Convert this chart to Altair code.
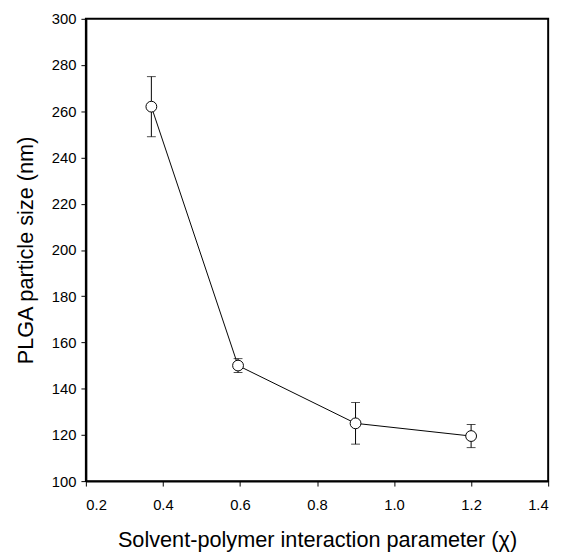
import altair as alt
import pandas as pd

chi = [0.37, 0.595, 0.9, 1.2]
size_nm = [262, 150, 125, 119.5]
err = [13, 3, 9, 5]

df = pd.DataFrame({"chi": chi, "size": size_nm, "err": err})
df["lo"] = df["size"] - df["err"]
df["hi"] = df["size"] + df["err"]

FONT = "Liberation Sans"

x = alt.X("chi:Q", scale=alt.Scale(domain=[0.2, 1.4], nice=False),
          axis=alt.Axis(title="Solvent-polymer interaction parameter (χ)",
                        values=[0.2, 0.4, 0.6, 0.8, 1.0, 1.2, 1.4], format=".1f",
                        grid=False, tickSize=5, tickColor="black", domainColor="black",
                        domainWidth=2, labelFont=FONT, labelFontSize=15, labelColor="black",
                        labelPadding=12, titleFont=FONT, titleFontSize=22, titleFontWeight="normal",
                        titleColor="black", titlePadding=17))
y_axis = alt.Axis(title="PLGA particle size (nm)",
                  values=list(range(100, 301, 20)),
                  grid=False, tickSize=5, tickColor="black", domainColor="black",
                  domainWidth=2, labelFont=FONT, labelFontSize=15, labelColor="black",
                  labelPadding=5, titleFont=FONT, titleFontSize=22, titleFontWeight="normal",
                  titleColor="black", titlePadding=14)
yscale = alt.Scale(domain=[100, 300], nice=False)

base = alt.Chart(df)

rules = base.mark_rule(color="black", strokeWidth=1).encode(
    x=x, y=alt.Y("lo:Q", scale=yscale, axis=y_axis), y2="hi:Q")
caps_hi = base.mark_tick(color="black", orient="horizontal", size=9, thickness=1).encode(
    x="chi:Q", y="hi:Q")
caps_lo = base.mark_tick(color="black", orient="horizontal", size=9, thickness=1).encode(
    x="chi:Q", y="lo:Q")
line = base.mark_line(color="black", strokeWidth=1).encode(x="chi:Q", y="size:Q")
pts = base.mark_point(shape="circle", filled=True, fill="white", stroke="black",
                      strokeWidth=1, size=120, opacity=1).encode(x="chi:Q", y="size:Q")

chart = alt.layer(rules, caps_hi, caps_lo, line, pts).properties(
    width=469, height=469,
    autosize=alt.AutoSizeParams(type="none"),
    padding={"left": 79, "top": 7, "right": 12, "bottom": 74},
    background="white",
).configure_view(stroke="black", strokeWidth=2)

chart.save("out.html", embed_options={"renderer": "svg", "actions": False})
